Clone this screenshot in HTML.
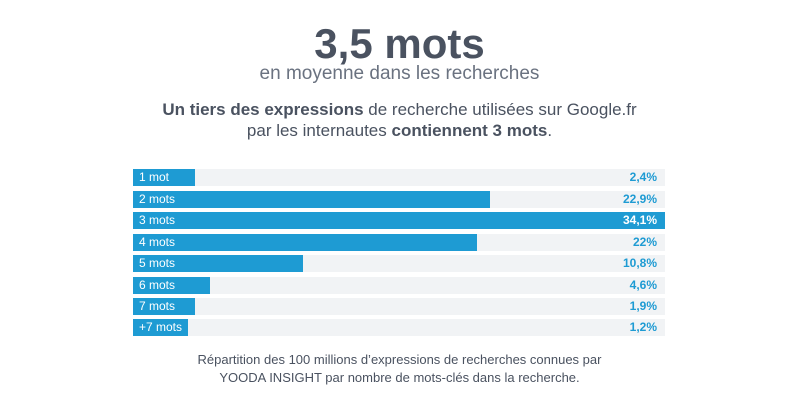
<!DOCTYPE html>
<html><head><meta charset="utf-8"><style>
body{margin:0;width:799px;height:400px;background:#fff;font-family:"Liberation Sans",sans-serif;position:relative;overflow:hidden;color:#4a5260}
.t{position:absolute;left:0;width:799px;text-align:center;white-space:nowrap}
.row{position:absolute;left:133px;width:532px;height:17px;background:#f1f3f5}
.bar{position:absolute;left:0;top:0;height:17px;background:#1e9bd3}
.lab{position:absolute;left:6px;top:1px;font-size:12px;color:#fff;line-height:15px}
.val{position:absolute;right:8px;top:1px;font-size:12px;font-weight:bold;color:#1e9bd3;line-height:15px}
</style></head><body>
<div class="t" style="top:20px;font-size:42px;font-weight:bold;color:#4a5260">3,5 mots</div>
<div class="t" style="top:63px;font-size:19px;color:#6a7280">en moyenne dans les recherches</div>
<div class="t" style="top:100px;font-size:17px;color:#4a5260"><b>Un tiers des expressions</b> de recherche utilisées sur Google.fr</div>
<div class="t" style="top:121px;font-size:17px;color:#4a5260">par les internautes <b>contiennent 3 mots</b>.</div>

<div class="row" style="top:169px"><div class="bar" style="width:62px"></div><div class="lab">1 mot</div><div class="val">2,4%</div></div>
<div class="row" style="top:191px"><div class="bar" style="width:357px"></div><div class="lab">2 mots</div><div class="val">22,9%</div></div>
<div class="row" style="top:212px"><div class="bar" style="width:532px"></div><div class="lab">3 mots</div><div class="val" style="color:#fff">34,1%</div></div>
<div class="row" style="top:234px"><div class="bar" style="width:344px"></div><div class="lab">4 mots</div><div class="val">22%</div></div>
<div class="row" style="top:255px"><div class="bar" style="width:170px"></div><div class="lab">5 mots</div><div class="val">10,8%</div></div>
<div class="row" style="top:277px"><div class="bar" style="width:77px"></div><div class="lab">6 mots</div><div class="val">4,6%</div></div>
<div class="row" style="top:298px"><div class="bar" style="width:62px"></div><div class="lab">7 mots</div><div class="val">1,9%</div></div>
<div class="row" style="top:319px"><div class="bar" style="width:55px"></div><div class="lab">+7 mots</div><div class="val">1,2%</div></div>

<div class="t" style="top:352px;font-size:13px;color:#4a5260">Répartition des 100 millions d’expressions de recherches connues par</div>
<div class="t" style="top:370px;font-size:13px;color:#4a5260">YOODA INSIGHT par nombre de mots-clés dans la recherche.</div>
</body></html>
